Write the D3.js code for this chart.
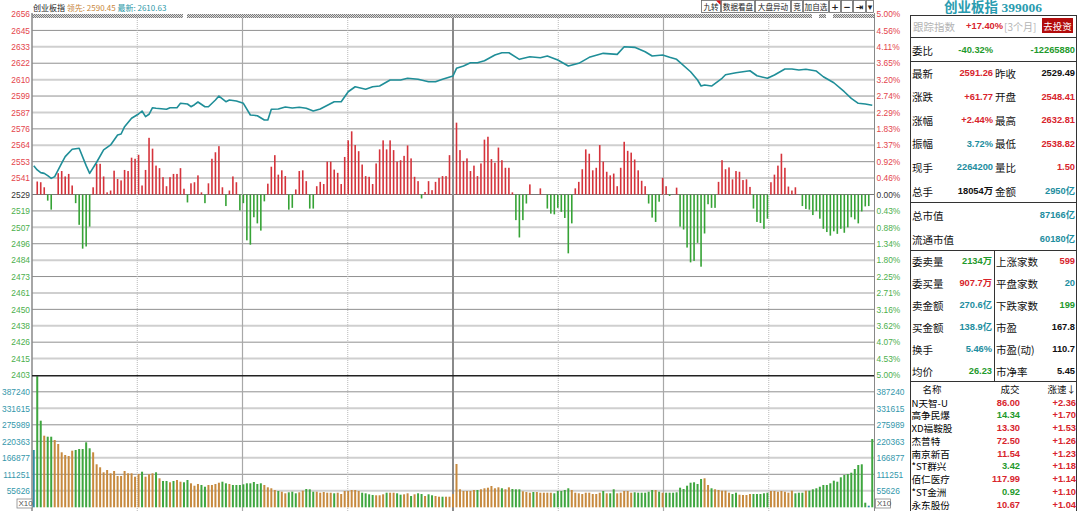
<!DOCTYPE html>
<html><head><meta charset="utf-8">
<script src="https://cdn.jsdelivr.net/npm/d3@7"></script>
<style>body{margin:0;background:#fff;overflow:hidden}svg{display:block}</style>
</head><body><svg id="c" width="1080" height="511"></svg>
<script>
// ---------------- DATA ----------------
const prevClose = 2529.49;
const priceLabels = ["2656","2645","2633","2622","2610","2599","2587","2576","2564","2553","2541","2529","2519","2507","2496","2484","2473","2461","2450","2438","2426","2415","2403"];
const pctLabels = ["5.00%","4.56%","4.11%","3.65%","3.20%","2.74%","2.29%","1.83%","1.37%","0.92%","0.46%","0.00%","0.43%","0.88%","1.34%","1.80%","2.25%","2.71%","3.16%","3.62%","4.07%","4.53%","5.00%"];
const volLabels = ["55626","111251","166877","220363","275989","331615","387240"];
const volStep = 55626;

// price line (minute index, index level)
const lineMinutes = [0,1,2,3,4,5,6,8,9,11,13,15,16,18,20,22,24,25,26,28,30,31,32,33,34,35,38,39,41,42,44,45,46,47,49,50,52,53,55,56,58,60,62,64,66,67,68,70,72,74,76,78,80,82,86,88,90,92,95,97,99,102,105,107,110,113,115,117,120,121,123,125,127,129,132,134,136,139,142,145,147,150,153,156,159,163,167,169,172,175,177,180,182,184,188,190,191,192,194,197,198,201,205,207,210,212,215,217,219,221,224,226,229,232,234,236,238,240];
const linePrices = [2549.7,2546.7,2544.8,2544.3,2542.7,2540.8,2542.0,2551.4,2556.0,2561.2,2561.9,2549.7,2544.3,2552.1,2560.7,2564.2,2571.2,2571.9,2577.0,2582.9,2585.9,2588.0,2584.0,2585.7,2590.3,2589.9,2589.2,2590.3,2590.3,2593.4,2592.9,2591.0,2592.4,2594.3,2591.0,2591.0,2595.7,2598.5,2594.5,2595.7,2595.0,2593.4,2585.2,2584.7,2581.7,2581.7,2589.2,2589.4,2590.8,2590.1,2590.6,2589.9,2588.0,2589.4,2594.5,2594.5,2601.5,2605.0,2603.2,2605.0,2605.5,2609.7,2609.7,2610.9,2610.2,2608.5,2608.5,2610.2,2612.5,2617.9,2619.5,2621.8,2621.8,2623.2,2627.2,2628.8,2628.8,2624.2,2626.0,2625.3,2626.5,2623.7,2619.5,2621.4,2625.6,2628.4,2627.7,2633.0,2632.6,2629.5,2626.5,2627.2,2625.6,2624.2,2615.5,2609.7,2605.5,2606.2,2605.5,2610.9,2613.4,2614.8,2616.2,2612.7,2610.9,2613.2,2617.4,2617.4,2616.7,2617.2,2616.0,2612.0,2607.8,2601.5,2596.9,2593.4,2592.9,2592.0];

// red/green strength bars, in % of the right axis (one per minute)
const strength = [0,0.36,0.34,0.20,-0.17,-0.42,0,0.59,0.65,0.50,
0.57,0.25,-0.24,-0.84,-1.50,-1.44,-0.89,0.20,0.85,0.85,
0.50,0.06,0.11,0.66,0.43,0.39,0.68,0.65,1.02,0.99,
1.10,0.25,0.68,1.57,1.27,0.80,0.73,0.48,0.23,0.48,
0.57,0.57,0.73,0.16,-0.22,0.31,0.34,0.53,0.06,-0.24,
0.31,0.99,1.17,1.34,0.20,-0.32,0.11,0.50,0.34,-0.44,
-0.24,-1.27,-1.39,-0.63,-0.80,-1.00,-0.19,0.30,0.77,1.09,
0.55,0.67,0.51,-0.42,-0.37,0.14,0.65,0.67,0.37,-0.39,
-0.39,0.23,0.35,0.29,0.91,0.91,0.69,0.60,0.29,1.04,
1.50,1.75,1.37,1.20,0.83,0.51,0.49,0.29,0.86,1.25,
1.50,1.25,1.50,1.23,0.91,0.95,1.07,1.36,1.00,0.49,
0.37,-0.11,0.07,0.37,0.12,0.35,0.46,0.51,0.51,1.09,
0,1.99,1.23,0.93,1.00,0.65,0.80,0.51,0.86,1.52,
1.60,0.98,0.88,1.30,0.95,0.74,0.74,0.06,-0.71,-1.19,
-0.71,-0.25,0.28,0,0,0.17,0,-0.39,-0.53,-0.55,
-0.37,-0.48,-0.65,-1.63,-0.80,0.17,0.35,0.70,1.25,1.13,
0.67,0.74,1.37,0.91,0.63,0.53,0.58,0.23,0.74,1.46,
1.21,1.16,0.97,0.67,0.38,0.23,-0.25,-0.64,-0.76,-0.20,
0.46,0.23,-0.04,0,0.19,-0.89,-0.97,-1.47,-1.88,-1.84,
-1.34,-2.00,-1.08,-0.27,-0.37,-0.37,0.35,0.95,0.70,0.75,
0.42,0.65,0.63,0.40,0.42,0.21,-0.39,-0.76,-0.79,-0.95,
-0.67,0.34,0.55,0.80,1.13,0.74,0.22,0.11,0.20,0,
-0.32,-0.40,-0.42,-0.57,-0.46,-0.67,-0.95,-1.04,-1.14,-1.02,
-1.09,-0.95,-1.06,-0.91,-0.63,-0.69,-0.80,-0.47,-0.33,-0.32,
0];

// volume per minute
const volumes = [193200,442000,292000,241400,238000,238000,226900,213400,185400,176300,
172900,190800,193200,196500,196500,219100,198900,185400,145000,134900,
118000,125700,114600,122400,105500,105500,122400,114600,114600,103200,
112300,120000,103200,111300,114600,118000,97800,88700,88700,84300,
88700,92000,86300,84300,92000,80900,72800,78600,75200,69400,
75200,75200,78600,82900,86300,80900,78600,75200,75200,75200,
77500,80900,80900,85300,78600,80900,75200,67400,64100,58300,
55000,52600,47200,50600,52600,47200,50600,56000,61700,60700,
52600,52600,49200,51600,49200,49200,47200,49200,44800,55000,
55000,58300,58300,55000,49200,47200,43800,41500,40500,40500,
43800,49200,49200,49200,47200,42500,43800,47200,38100,43800,
47200,44800,38100,43800,40500,38100,35700,35700,35700,35700,
44800,146000,60700,55000,55000,55000,58300,58300,60700,64100,
66100,71800,64100,67400,64100,60700,67400,61700,60700,60700,
53900,51600,49200,51600,51600,49200,49200,49200,49200,47200,
55000,55000,58300,64100,58300,49200,47200,44800,49200,49200,
44800,44800,49200,55000,47200,47200,60700,47200,49200,55000,
55000,49200,50600,49200,49200,49200,52600,58300,58300,52600,
49200,49200,49200,49200,50600,66100,61700,72800,82900,84300,
78600,95400,97800,75200,64100,60700,58300,56000,56000,49200,
44800,49200,42500,41500,41500,44800,44800,44800,44800,47200,
49200,55000,55000,52600,55000,52600,49200,56000,47200,49200,
49200,56000,56000,60700,64100,69400,75200,75200,80900,89700,
86300,101100,108900,112300,116600,129100,142600,145000,15500,5400,
230300];
// 1 = up (orange), -1 = down (green), 0 = neutral (blue)
const volDir = [0,-1,-1,1,-1,-1,1,1,1,1,
1,1,-1,-1,-1,-1,-1,1,1,1,
1,1,1,1,1,1,1,1,1,1,
1,-1,1,1,1,-1,1,-1,-1,1,
-1,1,1,-1,-1,1,1,1,-1,-1,
1,1,1,1,-1,-1,1,-1,-1,-1,
-1,-1,-1,-1,-1,-1,1,1,1,1,
-1,1,1,-1,-1,-1,1,1,-1,-1,
-1,1,1,1,1,1,-1,1,1,1,
1,1,1,1,-1,-1,-1,-1,1,1,
1,-1,1,1,-1,-1,1,1,-1,1,
-1,-1,1,-1,-1,1,1,-1,1,1,
1,1,1,1,1,1,1,-1,1,1,
1,1,1,1,-1,1,1,-1,-1,-1,
1,1,1,-1,1,1,1,1,1,-1,
-1,-1,-1,-1,1,1,1,1,1,1,
1,1,1,-1,1,-1,-1,1,1,1,
1,1,-1,-1,-1,-1,-1,-1,1,-1,
1,-1,-1,-1,-1,-1,-1,-1,-1,-1,
-1,-1,1,1,-1,1,1,1,1,1,
-1,-1,1,1,1,1,-1,-1,-1,-1,
-1,1,1,1,1,1,1,1,-1,-1,
-1,1,-1,-1,-1,-1,-1,-1,-1,-1,
-1,-1,-1,-1,-1,-1,-1,-1,-1,0,
-1];

// right panel texts
const quoteRows = [
 ["最新","2591.26","r","昨收","2529.49","k"],
 ["涨跌","+61.77","r","开盘","2548.41","r"],
 ["涨幅","+2.44%","r","最高","2632.81","r"],
 ["振幅","3.72%","t","最低","2538.82","r"],
 ["现手","2264200","t","量比","1.50","r"],
 ["总手","18054万","k","金额","2950亿","t"]];
const capRows = [["总市值","87166亿"],["流通市值","60180亿"]];
const marketRows = [
 ["委卖量","2134万","g","上涨家数","599","r"],
 ["委买量","907.7万","r","平盘家数","20","t"],
 ["卖金额","270.6亿","t","下跌家数","199","g"],
 ["买金额","138.9亿","t","市盈","167.8","k"],
 ["换手","5.46%","t","市盈(动)","110.7","k"],
 ["均价","26.23","g","市净率","5.45","k"]];
const stockNames = ["N天智-U","高争民爆","XD福鞍股","杰普特","南京新百","*ST群兴","佰仁医疗","*ST金洲","永东股份"];
const stockPrices = ["86.00","14.34","13.30","72.50","11.54","3.42","117.99","0.92","10.67"];
const stockPriceDir = ["r","g","r","r","r","g","r","g","r"];
const stockSpeed = ["+2.36","+1.70","+1.53","+1.26","+1.23","+1.18","+1.14","+1.10","+1.04"];
const buttons = ["九转","数据看盘","大盘异动","竞","加自选","+","−","⇥","▾"];

// ---------------- DRAW ----------------
const C = {r:"#d8242c", g:"#1f9a2c", t:"#1e8ea0", k:"#111"};
const AX = "Liberation Sans, Arial, sans-serif";
const CJK = "'Noto Sans CJK SC', sans-serif";
const NUM = "'Liberation Sans', 'Noto Sans CJK SC', sans-serif";
const svg = d3.select("#c");
const L=32, R=874, PT=14, PB=375, VT=376, VB=507.3;
const x = d3.scaleLinear().domain([-0.5,240.5]).range([L,R]);
const yPct = d3.scaleLinear().domain([-5,5]).range([PB,PT]);
const yPrice = p => yPct((p/prevClose-1)*100);
const yVol = d3.scaleLinear().domain([0, volStep*(VB-VT)/16.5]).range([VB,VT]);
const pctTicks = d3.range(23).map(i => 5 - i*10/22);
const volTicks = d3.range(1,8).map(i => i*volStep);

// price grid
const grid = svg.append("g");
pctTicks.forEach((p,i) => {
  if (i===0 || i===22) return;
  let dark = i<11 ? (i%2===1) : (i>11 ? i%2===0 : true);
  grid.append("line").attr("x1",L).attr("x2",R).attr("y1",yPct(p)).attr("y2",yPct(p))
    .attr("stroke", i===11 ? "#777" : (dark ? "#909090" : "#cfcfcf"))
    .attr("stroke-width", i===11 ? 1.2 : (dark ? 1 : 2));
});
// volume grid
const volDark = [false,true,false,true,true,false,true]; // index 0 -> 55626
volTicks.forEach((v,i) => {
  grid.append("line").attr("x1",L).attr("x2",R).attr("y1",yVol(v)).attr("y2",yVol(v))
    .attr("stroke", volDark[i] ? "#909090" : "#cfcfcf").attr("stroke-width", volDark[i]?1:2);
});
// vertical grid
for (let i=1;i<8;i++){
  const xx = L + i*(R-L)/8;
  const ln = grid.append("line").attr("x1",xx).attr("x2",xx).attr("y1",PT).attr("y2",511);
  if (i%2===1) ln.attr("stroke","#b8b8b8").attr("stroke-dasharray","1,1").attr("stroke-width",1);
  else if (i===4) ln.attr("stroke","#8a8a8a").attr("stroke-width",2);
  else ln.attr("stroke","#a8a8a8").attr("stroke-width",1.2);
}

// checker band on top
const defs = svg.append("defs");
const pat = defs.append("pattern").attr("id","chk").attr("width",2).attr("height",2).attr("patternUnits","userSpaceOnUse");
pat.append("rect").attr("width",2).attr("height",2).attr("fill","#dcdcdc");
pat.append("rect").attr("width",1).attr("height",1).attr("fill","#7a7a7a");
pat.append("rect").attr("x",1).attr("y",1).attr("width",1).attr("height",1).attr("fill","#7a7a7a");
[[32,183],[187,812],[819,826],[833,874]].forEach(s =>
  svg.append("rect").attr("x",s[0]).attr("y",14).attr("width",s[1]-s[0]).attr("height",4).attr("fill","url(#chk)"));

// strength bars
svg.append("g").selectAll("rect").data(strength.map((v,k)=>({v,k})).filter(d=>d.v!==0)).join("rect")
  .attr("x", d => x(d.k)-0.8).attr("width",1.6)
  .attr("y", d => yPct(Math.max(d.v,0)))
  .attr("height", d => Math.abs(yPct(d.v)-yPct(0)))
  .attr("fill", d => d.v>0 ? "#d5333b" : "#36a336");

// price line
svg.append("path").datum(lineMinutes.map((m,i)=>[m,linePrices[i]]))
  .attr("d", d3.line().x(d=>x(d[0])).y(d=>yPrice(d[1])))
  .attr("fill","none").attr("stroke","#1f8e98").attr("stroke-width",1.6).attr("stroke-linejoin","round");

// volume bars
svg.append("g").selectAll("rect").data(volumes.map((v,k)=>({v,k,d:volDir[k]}))).join("rect")
  .attr("x", d => x(d.k)-1).attr("width",2)
  .attr("y", d => yVol(d.v)).attr("height", d => VB - yVol(d.v))
  .attr("fill", d => d.d>0 ? "#c78a3f" : (d.d<0 ? "#3fa63f" : "#2f8fa3"));

// borders & separator
svg.append("line").attr("x1",L).attr("x2",L).attr("y1",13).attr("y2",511).attr("stroke","#888").attr("stroke-width",1.5);
svg.append("line").attr("x1",R+0.5).attr("x2",R+0.5).attr("y1",13).attr("y2",511).attr("stroke","#888").attr("stroke-width",1);
svg.append("line").attr("x1",L).attr("x2",R).attr("y1",375.8).attr("y2",375.8).attr("stroke","#222").attr("stroke-width",1.6);

// axes
function styleAxis(g, colorFn){
  g.select(".domain").remove();
  g.selectAll(".tick line").remove();
  g.selectAll(".tick text").attr("font-family",AX).attr("font-size","8.4px").attr("fill",(d,i)=>colorFn(i));
}
const pctColor = i => i<11 ? "#e4454c" : (i===11 ? "#333" : "#4caf4c");
svg.append("g").attr("transform",`translate(${L},0)`)
  .call(d3.axisLeft(yPct).tickValues(pctTicks).tickSize(0).tickPadding(2).tickFormat((d,i)=>priceLabels[i]))
  .call(g=>styleAxis(g,pctColor));
svg.append("g").attr("transform",`translate(${R},0)`)
  .call(d3.axisRight(yPct).tickValues(pctTicks).tickSize(0).tickPadding(2.5).tickFormat((d,i)=>pctLabels[i]))
  .call(g=>styleAxis(g,pctColor));
svg.append("g").attr("transform",`translate(${L},0)`)
  .call(d3.axisLeft(yVol).tickValues(volTicks).tickSize(0).tickPadding(2).tickFormat((d,i)=>volLabels[i]))
  .call(g=>styleAxis(g,()=>"#3497ab"));
svg.append("g").attr("transform",`translate(${R},0)`)
  .call(d3.axisRight(yVol).tickValues(volTicks).tickSize(0).tickPadding(2.5).tickFormat((d,i)=>volLabels[i]))
  .call(g=>styleAxis(g,()=>"#3497ab"));

// X10 boxes
[17,875.5].forEach(bx=>{
  svg.append("rect").attr("x",bx).attr("y",499).attr("width",15).attr("height",9).attr("fill","#fff").attr("stroke","#888").attr("stroke-width",0.8);
  svg.append("text").attr("x",bx+1.5).attr("y",503.8).attr("dominant-baseline","central").attr("font-family",AX).attr("font-size","8px").attr("fill","#555").text("X10");
});

// header
const hd = svg.append("text").attr("x",33).attr("y",6.5).attr("dominant-baseline","central").attr("font-family",CJK).attr("font-size","8px");
hd.append("tspan").attr("fill","#222").text("创业板指 ");
hd.append("tspan").attr("fill","#c8883c").text("领先: 2590.45 ");
hd.append("tspan").attr("fill","#2a98a8").text("最新: 2610.63");

// buttons
const btnX = [701,721,755,791,803,829,841,853,866,874];
buttons.forEach((b,i)=>{
  svg.append("rect").attr("x",btnX[i]+0.5).attr("y",0.5).attr("width",btnX[i+1]-btnX[i]-1).attr("height",12)
    .attr("fill","#fff").attr("stroke","#666").attr("stroke-width",0.8);
  svg.append("text").attr("x",(btnX[i]+btnX[i+1])/2).attr("y",6.6).attr("text-anchor","middle").attr("dominant-baseline","central")
    .attr("font-family", i>=5 ? "DejaVu Sans, sans-serif" : CJK).attr("font-size", i>=5 ? "9px" : "7.6px")
    .attr("font-weight", i>=5 ? "bold" : "normal").attr("fill","#222").text(b);
});
svg.append("path").attr("d","M716,0.5 L720.5,0.5 L720.5,5 Z").attr("fill","#e01010");

// ---------------- right panel ----------------
const P0 = 910.5, P1 = 1076.5;
function t(xp,yp,s,o){
  const e = svg.append("text").attr("x",xp).attr("y",yp).attr("dominant-baseline","central")
    .attr("font-family",o.f||CJK).attr("font-size",o.s||"10.5px").attr("fill",o.c||"#111")
    .attr("text-anchor",o.a||"start").text(s);
  if (o.w) e.attr("font-weight",o.w);
  return e;
}
t(993,7.5,"创业板指 399006",{f:"'Liberation Serif','Noto Sans CJK SC',serif",s:"13.5px",w:"bold",c:"#2a9cb0",a:"middle"});
svg.append("rect").attr("x",P0).attr("y",15.5).attr("width",P1-P0).attr("height",500).attr("fill","none").attr("stroke","#333").attr("stroke-width",1);
[37.5,61.5,202.5,250.5,381.5].forEach(yy=>svg.append("line").attr("x1",P0).attr("x2",P1).attr("y1",yy).attr("y2",yy).attr("stroke","#333").attr("stroke-width",1));
svg.append("line").attr("x1",994.5).attr("x2",994.5).attr("y1",250.5).attr("y2",381.5).attr("stroke","#333");

t(913,26,"跟踪指数",{c:"#b4b4b4"});
t(1003,26,"+17.40%",{f:NUM,s:"9.3px",w:"bold",c:C.r,a:"end"});
t(1004,26,"[3个月]",{c:"#b4b4b4",s:"10px"});
svg.append("rect").attr("x",1042).attr("y",18).attr("width",31).attr("height",15).attr("fill","#b30c0c");
t(1057.5,25.5,"去投资",{c:"#fff",s:"9.5px",a:"middle"});

t(912,50,"委比",{});
t(993,50,"-40.32%",{f:NUM,s:"9.3px",w:"bold",c:C.g,a:"end"});
t(1075,50,"-12265880",{f:NUM,s:"9.3px",w:"bold",c:C.g,a:"end"});

quoteRows.forEach((r,i)=>{
  const yy = 73 + i*23.6;
  t(912,yy,r[0],{});
  t(993,yy,r[1],{f:NUM,s:"9.3px",w:"bold",c:C[r[2]],a:"end"});
  t(995,yy,r[3],{});
  t(1075,yy,r[4],{f:NUM,s:"9.3px",w:"bold",c:C[r[5]],a:"end"});
});
capRows.forEach((r,i)=>{
  const yy = 215 + i*24;
  t(912,yy,r[0],{});
  t(1075,yy,r[1],{f:NUM,s:"9.3px",w:"bold",c:C.t,a:"end"});
});
marketRows.forEach((r,i)=>{
  const yy = 261 + i*22;
  t(912,yy,r[0],{});
  t(992,yy,r[1],{f:NUM,s:"9.3px",w:"bold",c:C[r[2]],a:"end"});
  t(996,yy,r[3],{});
  t(1075,yy,r[4],{f:NUM,s:"9.3px",w:"bold",c:C[r[5]],a:"end"});
});
t(932,388.5,"名称",{s:"9.5px",a:"middle"});
t(1010,388.5,"成交",{s:"9.5px",a:"middle"});
t(1076,388.5,"涨速↓",{s:"9.5px",a:"end"});
stockNames.forEach((n,i)=>{
  const yy = 402.5 + i*12.75;
  t(911.5,yy,n,{s:"9.6px",c:"#000"});
  t(1020,yy,stockPrices[i],{f:NUM,s:"9.3px",w:"bold",c:C[stockPriceDir[i]],a:"end"});
  t(1076,yy,stockSpeed[i],{f:NUM,s:"9.3px",w:"bold",c:C.r,a:"end"});
});
</script></body></html>
